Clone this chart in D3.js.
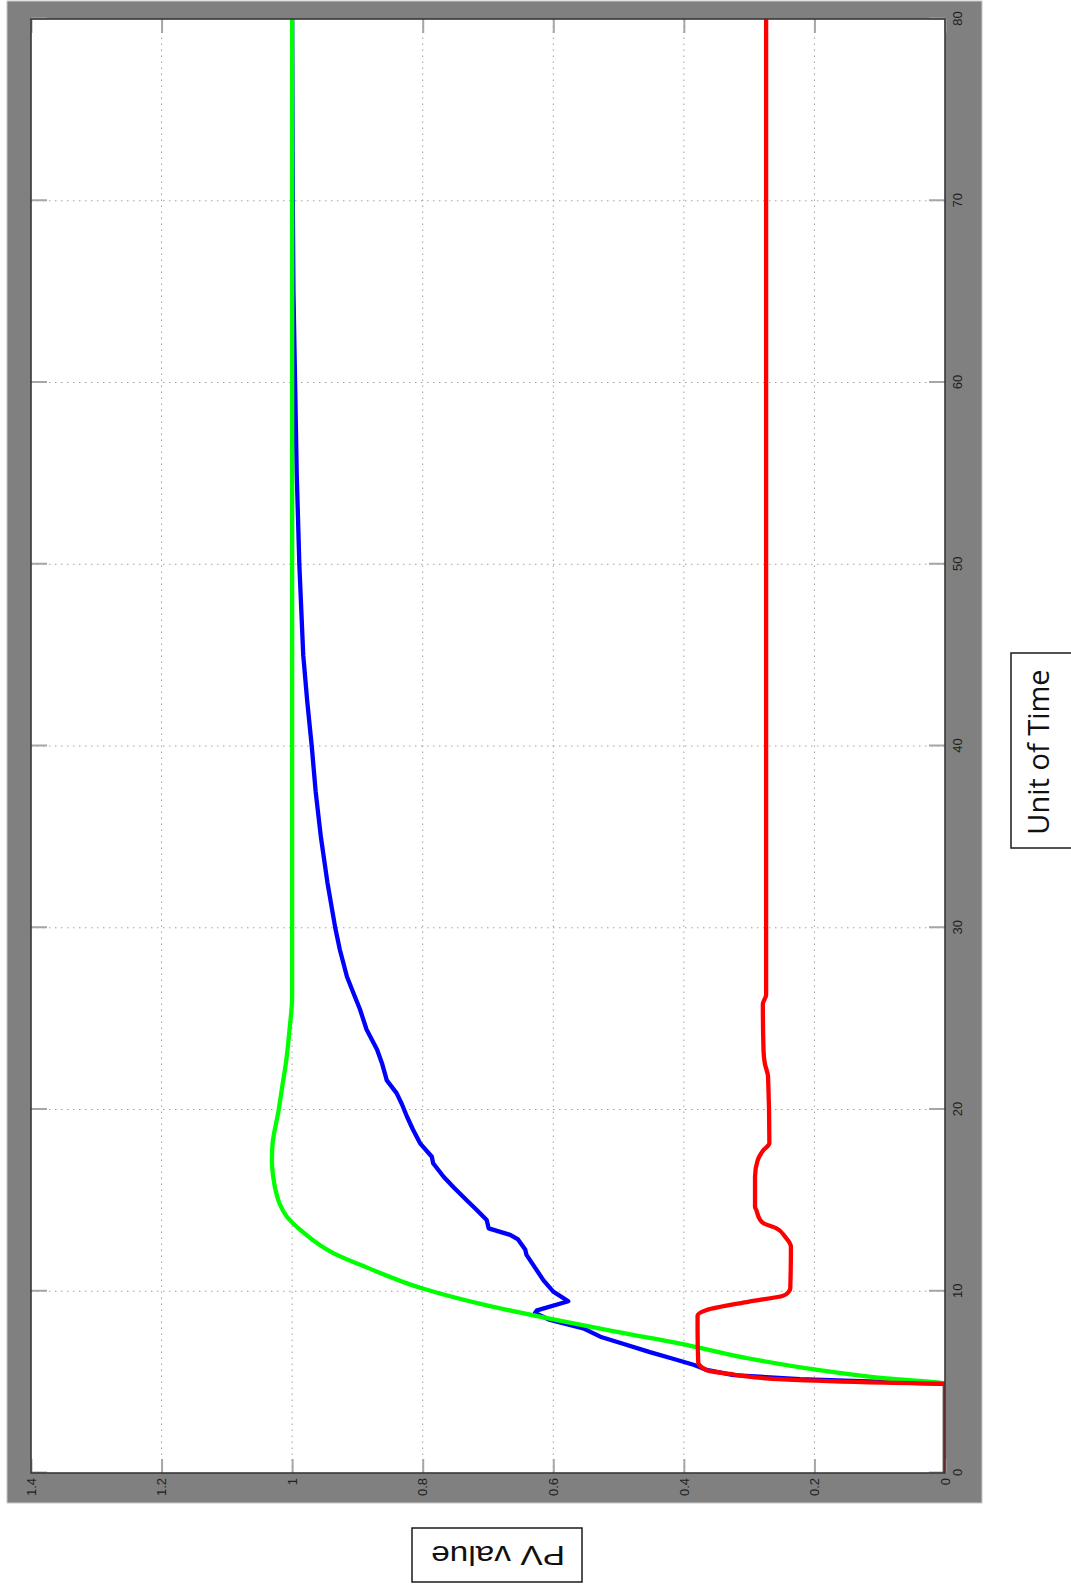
<!DOCTYPE html>
<html>
<head>
<meta charset="utf-8">
<script src="https://cdn.jsdelivr.net/npm/d3@7"></script>
<style>
  body { margin: 0; background: #ffffff; }
  svg { display: block; }
</style>
</head>
<body>
<script>
// ---- axis ticks ----
const timeTicks = [0, 10, 20, 30, 40, 50, 60, 70, 80];
const timeTickLabels = ["0", "10", "20", "30", "40", "50", "60", "70", "80"];
const valueTicks = [0, 0.2, 0.4, 0.6, 0.8, 1.0, 1.2, 1.4];
const valueTickLabels = ["0", "0.2", "0.4", "0.6", "0.8", "1", "1.2", "1.4"];

// ---- green response ----
const greenTime = [0, 4.9, 5.2, 5.7, 6.3, 7.0, 7.75, 8.45, 9.25, 10.15, 11.3, 12.1, 13.3, 14.1, 14.8, 15.5, 16.3, 17.2, 18.1, 19.9, 21.3, 22.7, 24.4, 26.2, 80];
const greenPV   = [0, 0, 0.09, 0.2, 0.3, 0.39, 0.5, 0.6, 0.705, 0.8, 0.885, 0.937, 0.985, 1.008, 1.019, 1.025, 1.029, 1.031, 1.03, 1.021, 1.015, 1.009, 1.004, 1.0, 1.0];

// ---- blue response ----
const blueTime = [0, 4.9, 5.16, 5.39, 5.67, 5.94, 6.3, 6.65, 7.1, 7.5, 7.96, 8.42, 8.8, 8.95, 9.45, 9.98, 10.6, 11.3, 12.0, 12.3, 12.85, 13.1, 13.46, 13.92, 14.5, 15.02, 15.7, 16.3, 17.04, 17.4, 18.14, 18.9, 19.6, 20.3, 20.9, 21.6, 22.5, 23.3, 24.4, 25.5, 26.4, 27.3, 28.8, 30, 32.5, 35, 37.5, 40, 42.5, 45, 50, 55, 60, 65, 70, 80];
const bluePV   = [0, 0, 0.222, 0.324, 0.365, 0.384, 0.418, 0.452, 0.492, 0.528, 0.554, 0.605, 0.628, 0.625, 0.577, 0.600, 0.615, 0.628, 0.641, 0.643, 0.654, 0.666, 0.699, 0.702, 0.718, 0.733, 0.752, 0.768, 0.784, 0.786, 0.804, 0.815, 0.824, 0.832, 0.840, 0.855, 0.862, 0.870, 0.886, 0.896, 0.906, 0.916, 0.927, 0.934, 0.946, 0.956, 0.964, 0.970, 0.977, 0.983, 0.989, 0.993, 0.9955, 0.998, 0.999, 1.0];

// ---- red response ----
const redTime = [0, 4.9, 4.97, 5.15, 5.34, 5.45, 5.6, 5.76, 6.1, 7.9, 8.65, 8.97, 9.43, 9.75, 9.95, 10.16, 12.45, 13.0, 13.46, 13.74, 13.92, 14.47, 14.65, 16.3, 17.2, 17.77, 18.14, 21.8, 22.54, 23.27, 25.8, 26.3, 80];
const redPV   = [0, 0, 0.094, 0.248, 0.31, 0.329, 0.36, 0.37, 0.378, 0.379, 0.379, 0.365, 0.30, 0.248, 0.240, 0.237, 0.236, 0.245, 0.258, 0.278, 0.283, 0.289, 0.291, 0.291, 0.287, 0.278, 0.269, 0.271, 0.276, 0.278, 0.279, 0.274, 0.274];

const width = 1071, height = 1587;
// Plot area measured in the unrotated frame: time runs along W, value along H.
const W = 1454, H = 914;

const svg = d3.select("body").append("svg")
  .attr("width", width).attr("height", height);

// Figure background
svg.append("rect")
  .attr("x", 7).attr("y", 1).attr("width", 975).attr("height", 1502)
  .attr("fill", "#808080").attr("stroke", "#c8c8c8").attr("stroke-width", 1);

// The whole axes are turned a quarter turn counter-clockwise.
const g = svg.append("g").attr("transform", "translate(31,1473) rotate(-90)");

const x = d3.scaleLinear().domain([0, 80]).range([0, W]);
const y = d3.scaleLinear().domain([0, 1.4]).range([H, 0]);

g.append("rect").attr("width", W).attr("height", H).attr("fill", "#ffffff");

// Dotted grid
const grid = g.append("g").attr("stroke", "#a0a0a0").attr("stroke-width", 1)
  .attr("stroke-dasharray", "1.5,4.5");
grid.selectAll("line.gx").data(timeTicks.slice(1, -1)).join("line")
  .attr("class", "gx")
  .attr("x1", d => x(d)).attr("x2", d => x(d)).attr("y1", 0).attr("y2", H);
grid.selectAll("line.gy").data(valueTicks.slice(1, -1)).join("line")
  .attr("class", "gy")
  .attr("y1", d => y(d)).attr("y2", d => y(d)).attr("x1", 0).attr("x2", W);

// Axes (ticks point inward on all four sides)
function styleAxis(sel) {
  sel.select(".domain").remove();
  sel.selectAll(".tick line").attr("stroke", "#a6a6a6").attr("stroke-width", 2);
  sel.selectAll(".tick text")
    .attr("fill", "#1e1e1e")
    .style("font-family", "'Liberation Sans', Arial, sans-serif")
    .style("font-size", "13px");
}

const xAxis = d3.axisBottom(x).tickValues(timeTicks)
  .tickFormat((d, i) => timeTickLabels[i])
  .tickSizeInner(-16).tickSizeOuter(0).tickPadding(8);
g.append("g").attr("transform", `translate(0,${H})`).call(xAxis).call(styleAxis);

const xAxisTop = d3.axisTop(x).tickValues(timeTicks).tickFormat("")
  .tickSizeInner(-16).tickSizeOuter(0);
g.append("g").call(xAxisTop).call(styleAxis);

const yAxis = d3.axisLeft(y).tickValues(valueTicks)
  .tickFormat((d, i) => valueTickLabels[i])
  .tickSizeInner(-14).tickSizeOuter(0).tickPadding(5);
g.append("g").call(yAxis).call(styleAxis);

const yAxisRight = d3.axisRight(y).tickValues(valueTicks).tickFormat("")
  .tickSizeInner(-14).tickSizeOuter(0);
g.append("g").attr("transform", `translate(${W},0)`).call(yAxisRight).call(styleAxis);

// Curves
g.append("clipPath").attr("id", "plotClip")
  .append("rect").attr("width", W).attr("height", H);

const series = [
  { t: blueTime, v: bluePV, color: "#0000ff", curve: d3.curveLinear },
  { t: greenTime, v: greenPV, color: "#00ff00", curve: d3.curveMonotoneX },
  { t: redTime, v: redPV, color: "#ff0000", curve: d3.curveMonotoneX }
];
const curves = g.append("g").attr("clip-path", "url(#plotClip)");
series.forEach(s => {
  const line = d3.line().x(d => x(d[0])).y(d => y(d[1])).curve(s.curve);
  curves.append("path")
    .datum(d3.zip(s.t, s.v))
    .attr("d", line)
    .attr("fill", "none")
    .attr("stroke", s.color)
    .attr("stroke-width", 4.3)
    .attr("stroke-linejoin", "round")
    .attr("stroke-linecap", "round");
});

// Axes box
g.append("rect").attr("width", W).attr("height", H)
  .attr("fill", "none").attr("stroke", "#383838").attr("stroke-width", 1.6);

// Axis title boxes
svg.append("rect")
  .attr("x", 1011).attr("y", 653).attr("width", 80).attr("height", 195)
  .attr("fill", "#ffffff").attr("stroke", "#1a1a1a").attr("stroke-width", 1.5);
svg.append("text")
  .attr("transform", "translate(1049,752) rotate(-90)")
  .attr("text-anchor", "middle")
  .style("font-family", "'Open Sans', sans-serif")
  .style("font-size", "29px")
  .attr("fill", "#111")
  .text("Unit of Time");

svg.append("rect")
  .attr("x", 412).attr("y", 1528).attr("width", 170).attr("height", 54)
  .attr("fill", "#ffffff").attr("stroke", "#1a1a1a").attr("stroke-width", 1.5);
svg.append("text")
  .attr("transform", "translate(498,1555) rotate(180)")
  .attr("text-anchor", "middle")
  .attr("dominant-baseline", "central")
  .attr("textLength", 134)
  .attr("lengthAdjust", "spacingAndGlyphs")
  .style("font-family", "'Liberation Sans', Arial, sans-serif")
  .style("font-size", "28px")
  .attr("fill", "#111")
  .text("PV value");
</script>
</body>
</html>
